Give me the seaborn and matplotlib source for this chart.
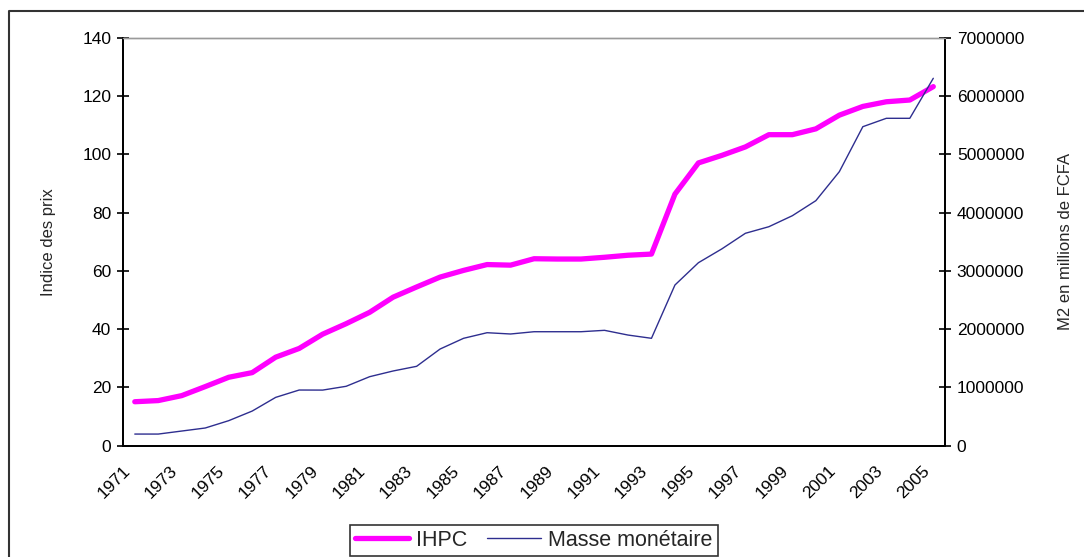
import pandas as pd
import numpy as np
import matplotlib.pyplot as plt
import seaborn as sns
from matplotlib.lines import Line2D

years = list(range(1971, 2006))
ihpc = [15.1, 15.5, 17.2, 20.3, 23.5, 25.1, 30.4, 33.4, 38.3, 41.9, 45.8, 51.0, 54.5,
        57.9, 60.2, 62.2, 62.0, 64.2, 64.1, 64.1, 64.7, 65.4, 65.8,
        86.4, 97.1, 99.7, 102.6, 106.8, 106.8, 108.8, 113.5, 116.5, 118.1, 118.7, 123.3]
masse = [200000, 200000, 252000, 304000, 430000, 595000, 830000, 956000, 955000, 1020000,
         1185000, 1283000, 1363000, 1660000, 1844000, 1940000, 1918000, 1957000, 1957000,
         1957000, 1981000, 1900000, 1844000, 2759000, 3142000, 3380000, 3647000, 3760000,
         3949000, 4207000, 4705000, 5477000, 5621000, 5621000, 6308000]
left_ticks = [0, 20, 40, 60, 80, 100, 120, 140]
right_ticks = [0, 1000000, 2000000, 3000000, 4000000, 5000000, 6000000, 7000000]

df = pd.DataFrame({'pos': range(len(years)), 'year': years, 'ihpc': ihpc, 'masse': masse})

sns.set_style('white')
plt.rcParams['font.family'] = ['Liberation Sans', 'DejaVu Sans']

fig, ax = plt.subplots(figsize=(10.84, 5.57), dpi=100)
fig.subplots_adjust(left=0.1135, right=0.8718, top=0.9318, bottom=0.1998)
ax2 = ax.twinx()

sns.lineplot(data=df, x='pos', y='ihpc', ax=ax, color='#ff00ff', linewidth=3.8, legend=False)
sns.lineplot(data=df, x='pos', y='masse', ax=ax2, color='#2e2e8f', linewidth=1.0, legend=False)

ax.set_xlim(-0.5, len(years) - 0.5)
ax.set_ylim(0, 140)
ax2.set_ylim(0, 7000000)
ax.set_yticks(left_ticks)
ax.set_yticklabels([str(v) for v in left_ticks])
ax2.set_yticks(right_ticks)
ax2.set_yticklabels([str(v) for v in right_ticks])

# ticks between categories, every two years
tick_pos = [i - 0.5 for i in range(0, len(years), 2)]
ax.set_xticks(tick_pos)
ax.set_xticklabels([str(years[i]) for i in range(0, len(years), 2)],
                   rotation=45, ha='right', va='top', rotation_mode='anchor')

for a in (ax, ax2):
    for s in a.spines.values():
        s.set_color('black')
        s.set_linewidth(1.3)
    a.spines['top'].set_color('#9a9a9a')
    a.spines['top'].set_linewidth(1.0)
    a.grid(False)

ax.tick_params(axis='y', direction='inout', length=9, width=1.2, labelsize=12.5, pad=4, colors='black')
ax.tick_params(axis='x', direction='inout', length=9, width=1.2, labelsize=12.5, pad=8, colors='black')
ax2.tick_params(axis='y', direction='inout', length=9, width=1.2, labelsize=12.5, pad=4, colors='black')

ax.set_xlabel('')
ax.set_ylabel('Indice des prix', fontsize=12)
ax2.set_ylabel('M2 en millions de FCFA', fontsize=12)
ax.yaxis.set_label_coords(-0.0815, 0.5)
ax2.yaxis.set_label_coords(1.137, 0.5)

handles = [Line2D([], [], color='#ff00ff', linewidth=3.8),
           Line2D([], [], color='#2e2e8f', linewidth=1.0)]
leg = fig.legend(handles, ['IHPC', 'Masse monétaire'], loc='center',
                 bbox_to_anchor=(0.4926, 0.0296), ncol=2, frameon=True, fancybox=False,
                 edgecolor='black', fontsize=15.5, handlelength=2.5, columnspacing=0.9,
                 handletextpad=0.35, borderpad=0.25, borderaxespad=0)
leg.get_frame().set_linewidth(1.2)

# outer chart frame
fig.add_artist(Line2D([0.0083, 0.0083, 1.0], [0.0, 0.980, 0.980],
                      transform=fig.transFigure, color='#333333', linewidth=1.5))

fig.savefig('out.png', dpi=100)
